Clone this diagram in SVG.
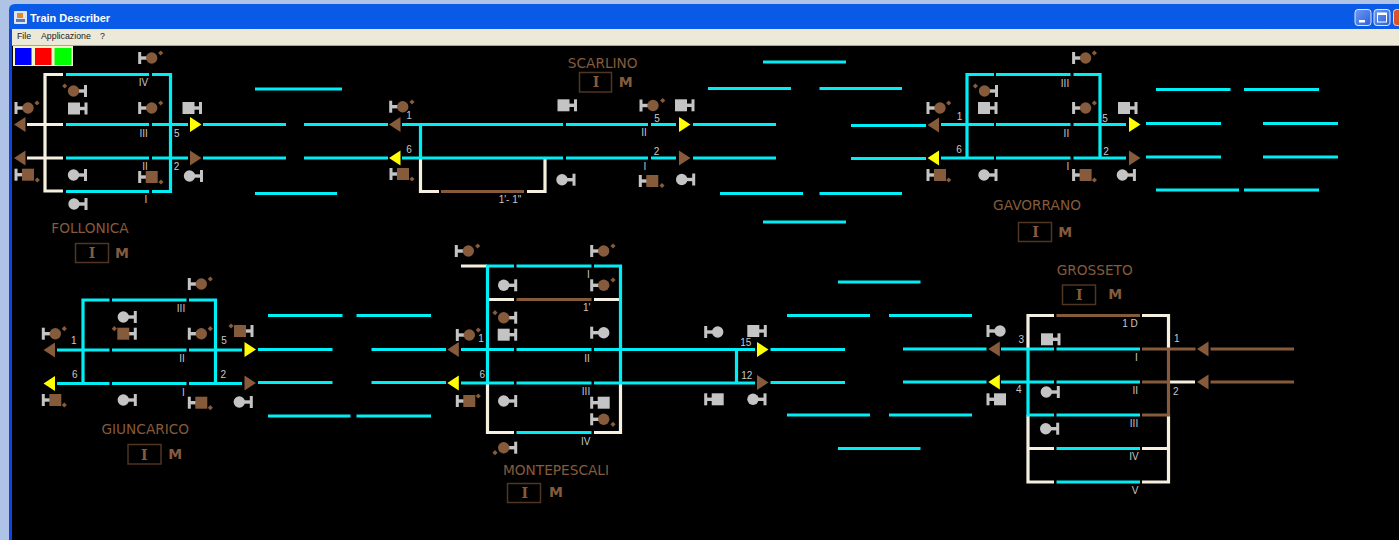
<svg xmlns="http://www.w3.org/2000/svg" width="1399" height="540" viewBox="0 0 1399 540">
<style>
.c{fill:none;stroke:#00eef5;stroke-width:3.2}
.w{fill:none;stroke:#f5f0e0;stroke-width:3.2}
.b{fill:none;stroke:#855b3c;stroke-width:3.2}
.g{fill:#c4c4c4}
.h{fill:#855b3c}
.y{fill:#ffff00}
.n{font:13.7px "DejaVu Sans",sans-serif;fill:#855b3c;text-anchor:middle}
.l{font:10px "Liberation Sans",Arial,sans-serif;fill:#c8c8c8;text-anchor:middle}
.i{font:bold 14px "DejaVu Serif",serif;fill:#855b3c;text-anchor:middle}
.m{font:bold 14px "DejaVu Sans",sans-serif;fill:#855b3c;text-anchor:middle}
.x{fill:none;stroke:#4f3523;stroke-width:1.5}
.menu{font:8.8px "Liberation Sans",Arial,sans-serif;fill:#222}
</style>
<defs>
<linearGradient id="tb" x1="0" y1="0" x2="0" y2="1"><stop offset="0" stop-color="#0a5ae8"/><stop offset="0.15" stop-color="#0a5cea"/><stop offset="0.6" stop-color="#0052dc"/><stop offset="1" stop-color="#0048cc"/></linearGradient>
<linearGradient id="btn" x1="0" y1="0" x2="1" y2="1"><stop offset="0" stop-color="#6f9bf2"/><stop offset="1" stop-color="#2a5fd8"/></linearGradient>
<g id="barL"><rect class="g" x="-13.500" y="-6" width="3" height="12"/><rect class="g" x="-12" y="-1.700" width="10" height="3.400"/></g>
<g id="barR"><rect class="g" x="10.500" y="-6" width="3" height="12"/><rect class="g" x="2" y="-1.700" width="10" height="3.400"/></g>
<g id="cl"><use href="#barL"/><circle r="5.700"/></g>
<g id="cr"><use href="#barR"/><circle r="5.700"/></g>
<g id="sl"><use href="#barL"/><rect x="-6" y="-6" width="12" height="12"/></g>
<g id="sr"><use href="#barR"/><rect x="-6" y="-6" width="12" height="12"/></g>
<polygon id="d" class="h" points="0,-2.600 2.600,0 0,2.600 -2.600,0"/>
<polygon id="ar" points="0,-7.600 11.500,0 0,7.600"/>
<polygon id="al" points="11.500,-7.600 0,0 11.500,7.600"/>
</defs>

<rect width="1399" height="540" fill="#aec3e6"/>
<g id="window">
<path d="M9 540V10Q9 4 15 4H1399V30H12V540Z" fill="url(#tb)"/>
<rect x="9" y="29" width="3" height="511" fill="#0f45dc"/>
<rect x="12" y="46" width="1387" height="494" fill="#000"/>
<rect x="12" y="29" width="1387" height="16" fill="#ece9d8"/>
<rect x="12" y="45" width="1387" height="1" fill="#a8a698"/>
<rect x="14" y="11" width="13" height="13" rx="1" fill="#dfe6f2"/>
<rect x="17" y="13" width="6" height="5" fill="#e08a30"/>
<rect x="16" y="19" width="9" height="3" fill="#5a78a8"/>
<text x="30" y="22" style="font:bold 11px 'Liberation Sans',Arial,sans-serif;fill:#fff">Train Describer</text>
<text class="menu" x="17" y="39">File</text>
<text class="menu" x="41" y="39">Applicazione</text>
<text class="menu" x="100" y="39">?</text>
<rect x="1355" y="9.500" width="16" height="16" rx="3" fill="url(#btn)" stroke="#dce6fa"/>
<rect x="1359" y="20" width="6" height="2.500" fill="#fff"/>
<rect x="1374" y="9.500" width="16" height="16" rx="3" fill="url(#btn)" stroke="#dce6fa"/>
<rect x="1377.500" y="13" width="9" height="9" fill="none" stroke="#fff"/>
<rect x="1377.500" y="13" width="9" height="2" fill="#fff"/>
<rect x="1393.500" y="9.500" width="8" height="16" rx="3" fill="#d9542c" stroke="#f0d8d0"/>
<rect x="13" y="46" width="60" height="20" fill="#f5f5c8"/>
<rect x="15" y="48" width="16.500" height="17" fill="#0000ff"/>
<rect x="35" y="48" width="16.500" height="17" fill="#ff0000"/>
<rect x="54.500" y="48" width="17" height="17" fill="#00ff00"/>
</g>

<g id="connectors">
<path class="w" d="M63 74.500H45V191H63M27 124.500H63M27 158H63"/>
<path class="c" d="M66 74.500H149M152 74.500H170.500V191.500H152M149 191.500H66M66 124.500H149M152 124.500H188M66 158H149M152 158H188M203 124.500H286M304 124.500H388M203 158H286M304 158H388"/>
<path class="c" d="M255 89H342M255 193.500H337"/>

<path class="w" d="M420.500 158V191.500H439M545 158V191.500H527"/>
<path class="b" d="M441 191.500H524"/>
<path class="c" d="M402 124.500H563M566 124.500H648M651 124.500H676M693 124.500H776M402 158H563M566 158H648M651 158H676M693 158H776M420.500 124.500V158"/>
<path class="c" d="M763 62H846M708 88.500H791M819.500 88.500H902M720 193.500H803M819.500 193.500H902M763 222H846M851 125.500H926M851 158.500H926"/>

<path class="c" d="M994 74.500H967V158M941 124.500H994M941 158H994M996 74.500H1070.500M996 124.500H1070.500M996 158H1070.500M1073.500 74.500H1100V158M1073.500 124.500H1126M1073.500 158H1126"/>
<path class="c" d="M1146 123.500H1221M1263 123.500H1338M1146 157H1221M1263 157H1338M1156 89.500H1230.500M1244 89.500H1319M1156 190H1239M1244 190H1319"/>

<path class="c" d="M109.500 300H83V383.500M57 350H109.500M57 383.500H109.500M112 300H186.500M112 350H186.500M112 383.500H186.500M189 300H215.500V383.500M189 350H242M189 383.500H242"/>
<path class="c" d="M258 349.500H332.500M371.500 349.500H446M258 382.500H332.500M371.500 382.500H446M268 315.500H342.500M356.500 315.500H431M268 416H350.500M356.500 416H431"/>

<path class="w" d="M461 266H487M489 299.500H514M594 299.500H619M487.500 383V432.500H514M594 432.500H620.500V383"/>
<path class="b" d="M516.500 299.500H591.500"/>
<path class="c" d="M487.500 383V266H514M516.500 266H591.500M594 266H620.500V383M461 349.500H514M516.500 349.500H591.500M594 349.500H755M461 383H514M516.500 383H591.500M594 383H755M736.500 349.500V383M516.500 432.500H591.500M770.500 349.500H845M770.500 382.500H845"/>
<path class="c" d="M787 315.500H870M889 315.500H972M787 415H870M889 415H972M838 282H920.500M838 448.500H920.500"/>

<path class="w" d="M1054 315.500H1028V349M1142 315.500H1168.500V349M1028 415V482H1054M1168.500 415V482H1142M1028 448.500H1054M1142 448.500H1168.500M1170 382H1195"/>
<path class="b" d="M1056.500 315.500H1140M1142 349H1195.500M1210.500 349H1294M1142 382H1170M1210.500 382H1294M1142 415H1168.500V349"/>
<path class="c" d="M903 349H986.500M903 382H986.500M1001 349H1054M1001 382H1054M1056.500 349H1140M1056.500 382H1140M1028 349V415H1054M1056.500 415H1140M1056.500 448.500H1140M1056.500 482H1140"/>
</g>

<g id="follonica">
<use href="#cl" class="h" x="151.700" y="58"/><use href="#d" x="160.700" y="53"/>
<use href="#cr" class="h" x="73.500" y="91"/><use href="#d" x="64.700" y="86"/>
<use href="#sr" class="g" x="74" y="108.500"/>
<use href="#cl" class="h" x="28" y="108"/><use href="#d" x="37" y="103"/>
<use href="#cl" class="h" x="151.700" y="108"/><use href="#d" x="160.700" y="103"/>
<use href="#sr" class="g" x="188.500" y="108"/>
<use href="#sl" class="h" x="28" y="174.700"/><use href="#d" x="37.300" y="180"/>
<use href="#cr" class="g" x="73.500" y="175"/>
<use href="#sl" class="h" x="151.700" y="177"/><use href="#d" x="161" y="182"/>
<use href="#cr" class="g" x="189.500" y="176"/>
<use href="#cr" class="g" x="74" y="204"/>
<use href="#al" class="h" x="14" y="124.500"/><use href="#al" class="h" x="14" y="158"/>
<use href="#ar" class="y" x="190" y="124.500"/><use href="#ar" class="h" x="190" y="158"/>
<text class="l" x="143.500" y="86">IV</text><text class="l" x="143.700" y="136.500">III</text><text class="l" x="176.700" y="136.500">5</text>
<text class="l" x="145" y="169.500">II</text><text class="l" x="176.500" y="170">2</text><text class="l" x="146" y="202.500">I</text>
<text class="n" x="90" y="233">FOLLONICA</text>
<rect class="x" x="75.500" y="243.500" width="33" height="19"/><text class="i" x="92" y="258">I</text><text class="m" x="122" y="258">M</text>
</g>

<g id="scarlino">
<use href="#cl" class="h" x="402.700" y="106.700"/><use href="#d" x="412" y="102"/>
<use href="#sr" class="g" x="563.500" y="105.300"/>
<use href="#cl" class="h" x="653" y="105.500"/><use href="#d" x="662.700" y="100.500"/>
<use href="#sr" class="g" x="681" y="105.300"/>
<use href="#sl" class="h" x="403" y="174"/><use href="#d" x="412" y="179"/>
<use href="#cr" class="g" x="562" y="179.700"/>
<use href="#sl" class="h" x="652.300" y="181"/><use href="#d" x="662" y="185.500"/>
<use href="#cr" class="g" x="681.700" y="179.500"/>
<use href="#al" class="h" x="389" y="124.500"/><use href="#al" class="y" x="389" y="158"/>
<use href="#ar" class="y" x="679" y="124.500"/><use href="#ar" class="h" x="679" y="158"/>
<text class="l" x="409" y="119">1</text><text class="l" x="657" y="121.500">5</text><text class="l" x="644" y="136">II</text>
<text class="l" x="409" y="153">6</text><text class="l" x="656.500" y="154.500">2</text><text class="l" x="645" y="169.500">I</text><text class="l" x="510" y="203">1'- 1"</text>
<text class="n" x="602.700" y="67.500">SCARLINO</text>
<rect class="x" x="579.500" y="72.500" width="32" height="19.500"/><text class="i" x="596" y="87">I</text><text class="m" x="625.700" y="87">M</text>
</g>

<g id="gavorrano">
<use href="#cl" class="h" x="1085.600" y="58"/><use href="#d" x="1094.400" y="53"/>
<use href="#cr" class="h" x="984.500" y="91"/><use href="#d" x="975.400" y="86"/>
<use href="#sr" class="g" x="984" y="108"/>
<use href="#cl" class="h" x="940" y="108"/><use href="#d" x="948.700" y="103"/>
<use href="#cl" class="h" x="1085.600" y="108"/><use href="#d" x="1094.400" y="103"/>
<use href="#sr" class="g" x="1124" y="108"/>
<use href="#sl" class="h" x="940" y="175"/><use href="#d" x="948.700" y="180"/>
<use href="#cr" class="g" x="984" y="175"/>
<use href="#sl" class="h" x="1085.600" y="175"/><use href="#d" x="1094.400" y="180"/>
<use href="#cr" class="g" x="1122.400" y="175"/>
<use href="#al" class="h" x="927.500" y="125"/><use href="#al" class="y" x="927.500" y="158"/>
<use href="#ar" class="y" x="1129" y="124.500"/><use href="#ar" class="h" x="1129" y="158"/>
<text class="l" x="1065" y="86.500">III</text><text class="l" x="959.600" y="119.500">1</text><text class="l" x="1105" y="121.500">5</text>
<text class="l" x="1066.400" y="136.500">II</text><text class="l" x="959" y="152.500">6</text><text class="l" x="1106" y="154.500">2</text><text class="l" x="1067.800" y="169.500">I</text>
<text class="n" x="1037" y="209.500">GAVORRANO</text>
<rect class="x" x="1018.500" y="222.500" width="33" height="19"/><text class="i" x="1035.600" y="237">I</text><text class="m" x="1065.300" y="237">M</text>
</g>

<g id="giuncarico">
<use href="#cl" class="h" x="201.300" y="284"/><use href="#d" x="210.300" y="279"/>
<use href="#cr" class="g" x="123.300" y="317"/>
<use href="#sr" class="h" x="123.300" y="333.700"/><use href="#d" x="114.300" y="328.700"/>
<use href="#cl" class="h" x="55.300" y="333.700"/><use href="#d" x="64.300" y="328.700"/>
<use href="#cl" class="h" x="201.300" y="333.700"/><use href="#d" x="210.300" y="328.700"/>
<use href="#sr" class="h" x="240" y="331"/><use href="#d" x="231" y="326"/>
<use href="#sl" class="h" x="55.300" y="400"/><use href="#d" x="64.300" y="405"/>
<use href="#cr" class="g" x="123.300" y="400"/>
<use href="#sl" class="h" x="201.300" y="402.700"/><use href="#d" x="210.300" y="407.700"/>
<use href="#cr" class="g" x="239.300" y="402"/>
<use href="#al" class="h" x="43.500" y="350"/><use href="#al" class="y" x="43.500" y="383.500"/>
<use href="#ar" class="y" x="244.500" y="349.500"/><use href="#ar" class="h" x="244.500" y="383"/>
<text class="l" x="181" y="312">III</text><text class="l" x="73.700" y="343.500">1</text><text class="l" x="224" y="343.500">5</text><text class="l" x="182" y="362">II</text>
<text class="l" x="74.700" y="377.500">6</text><text class="l" x="223.300" y="377.500">2</text><text class="l" x="183.300" y="395.500">I</text>
<text class="n" x="145.300" y="434">GIUNCARICO</text>
<rect class="x" x="128" y="444.500" width="33" height="19.500"/><text class="i" x="144.300" y="460">I</text><text class="m" x="175.300" y="459">M</text>
</g>

<g id="montepescali">
<use href="#cl" class="h" x="468.300" y="251"/><use href="#d" x="477.700" y="246"/>
<use href="#cl" class="h" x="603.700" y="251"/><use href="#d" x="613" y="246"/>
<use href="#cr" class="g" x="503.700" y="285.300"/>
<use href="#cl" class="h" x="603.700" y="285.300"/><use href="#d" x="613" y="280"/>
<use href="#cr" class="h" x="503.700" y="317.700"/><use href="#d" x="495" y="312.700"/>
<use href="#sr" class="g" x="503.700" y="334.700"/>
<use href="#cl" class="h" x="469.300" y="335"/><use href="#d" x="478.300" y="330"/>
<use href="#cl" class="g" x="603.700" y="332.700"/>
<use href="#cl" class="g" x="717.700" y="332"/>
<use href="#sr" class="g" x="753.300" y="331"/>
<use href="#sl" class="h" x="469.300" y="401"/><use href="#d" x="478.300" y="396"/>
<use href="#cr" class="g" x="503.700" y="401"/>
<use href="#sl" class="g" x="603.700" y="402.700"/>
<use href="#cl" class="h" x="603.700" y="419.300"/><use href="#d" x="613" y="424.300"/>
<use href="#cr" class="h" x="503.700" y="447.700"/><use href="#d" x="495" y="452.700"/>
<use href="#sl" class="g" x="717.700" y="399.300"/>
<use href="#cr" class="g" x="753" y="399.300"/>
<use href="#al" class="h" x="447.300" y="349.500"/><use href="#al" class="y" x="447.300" y="383"/>
<use href="#ar" class="y" x="757" y="349.500"/><use href="#ar" class="h" x="757" y="382.500"/>
<text class="l" x="588.300" y="277.500">I</text><text class="l" x="586.700" y="311">1'</text><text class="l" x="481" y="342">1</text><text class="l" x="745.700" y="345.500">15</text>
<text class="l" x="587" y="361.500">II</text><text class="l" x="482.300" y="377.500">6</text><text class="l" x="746.700" y="378.500">12</text><text class="l" x="586" y="394.500">III</text><text class="l" x="585.700" y="444.500">IV</text>
<text class="n" x="556" y="475">MONTEPESCALI</text>
<rect class="x" x="507.500" y="483.500" width="33" height="19"/><text class="i" x="524.700" y="498">I</text><text class="m" x="556" y="497">M</text>
</g>

<g id="grosseto">
<use href="#cl" class="g" x="1000" y="331"/>
<use href="#sr" class="g" x="1047" y="339.300"/>
<use href="#cr" class="g" x="1046.300" y="392"/>
<use href="#sl" class="g" x="1000" y="399.300"/>
<use href="#cr" class="g" x="1045.700" y="428.700"/>
<use href="#al" class="h" x="988.300" y="349"/><use href="#al" class="y" x="988.300" y="382"/>
<use href="#al" class="h" x="1197" y="349"/><use href="#al" class="h" x="1197" y="382"/>
<text class="l" x="1130" y="327">1 D</text><text class="l" x="1021.300" y="342.500">3</text><text class="l" x="1176.700" y="341.500">1</text><text class="l" x="1136.300" y="360.500">I</text>
<text class="l" x="1018.700" y="392.500">4</text><text class="l" x="1135.300" y="393.500">II</text><text class="l" x="1175.700" y="394.500">2</text><text class="l" x="1134" y="426.500">III</text>
<text class="l" x="1134" y="460">IV</text><text class="l" x="1135" y="493.500">V</text>
<text class="n" x="1094.700" y="275">GROSSETO</text>
<rect class="x" x="1062.500" y="285" width="33" height="19.500"/><text class="i" x="1079.300" y="300">I</text><text class="m" x="1115.300" y="299">M</text>
</g>
</svg>
